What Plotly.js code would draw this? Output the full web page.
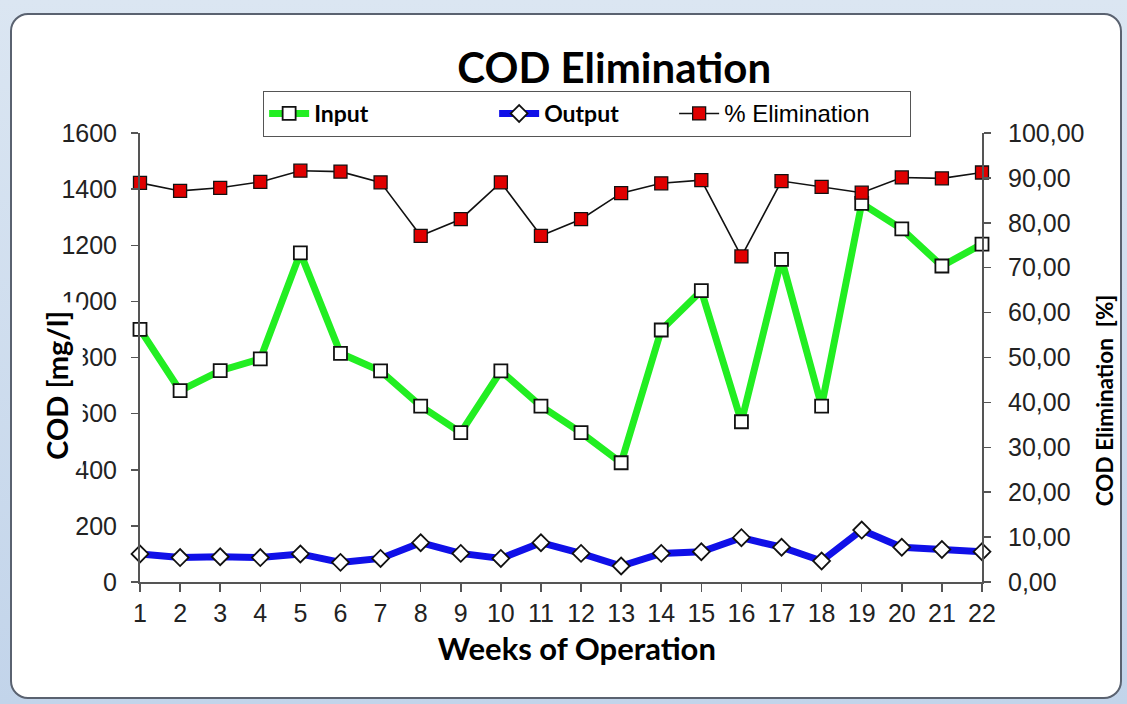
<!DOCTYPE html>
<html><head><meta charset="utf-8">
<script src="https://cdn.plot.ly/plotly-3.0.1.min.js"></script>
<style>
html,body{margin:0;padding:0;width:1127px;height:704px;overflow:hidden;
background:linear-gradient(180deg,#dbe6f2 0%,#c2d4ea 100%);}
#card{position:absolute;left:10px;top:13px;width:1112px;height:686px;border:2px solid #5a6270;border-radius:18px;background:#fff;box-sizing:border-box;}
#chart{position:absolute;left:0;top:0;width:1127px;height:704px;}
</style></head><body>
<div id="card"></div><div id="chart"></div>
<script>
const weeks = [1,2,3,4,5,6,7,8,9,10,11,12,13,14,15,16,17,18,19,20,21,22];
const inputCOD = [900,682,753,795,1173,815,752,627,532,752,627,532,425,898,1038,571,1150,627,1349,1258,1126,1204];
const outputCOD = [100,87,90,87,100,70,84,140,102,84,140,102,57,102,108,158,124,75,185,124,116,108];
const eliminationPct = [88.9,87.1,87.8,89.1,91.6,91.4,89.0,77.1,80.8,89.0,77.1,80.8,86.6,88.8,89.5,72.5,89.3,88.0,86.7,90.1,89.9,91.2];
const seriesNames = ["Input","Output","% Elimination"];
const leftTickVals = [0,200,400,600,800,1000,1200,1400,1600];
const leftTickText = ["0","200","400","600","800","1000","1200","1400","1600"];
const rightTickVals = [0,10,20,30,40,50,60,70,80,90,100];
const rightTickText = ["0,00","10,00","20,00","30,00","40,00","50,00","60,00","70,00","80,00","90,00","100,00"];
const chartTitle = "COD Elimination";
const xTitle = "Weeks of Operation";
const yLeftTitle = "COD [mg/l]";
const yRightTitle = "COD Elimination&nbsp; [%]";

const tickFont = {family:"Liberation Sans, Arial, sans-serif", size:25, color:"#222"};
const axisColor = "#555";

const traces = [
  {x:weeks, y:inputCOD, name:"<b>"+seriesNames[0]+"</b>", type:"scatter", mode:"lines+markers",
   legendwidth:175,
   line:{color:"#22ee22", width:7}, cliponaxis:false,
   marker:{symbol:"square", size:13, color:"#ffffff", line:{color:"#111", width:1.8}}},
  {x:weeks, y:outputCOD, name:"<b>"+seriesNames[1]+"</b>", type:"scatter", mode:"lines+markers",
   legendwidth:125,
   line:{color:"#1010e8", width:7}, cliponaxis:false,
   marker:{symbol:"diamond", size:13, color:"#ffffff", line:{color:"#111", width:1.8}}},
  {x:weeks, y:eliminationPct, name:'<span style="font-family:Liberation Sans;font-size:24px">'+seriesNames[2]+'</span>', type:"scatter", mode:"lines+markers",
   legendwidth:180,
   yaxis:"y2", line:{color:"#111", width:1.6}, cliponaxis:false,
   marker:{symbol:"square", size:13, color:"#e00000", line:{color:"#111", width:1.3}}}
];

const layout = {
  width:1127, height:704,
  paper_bgcolor:"rgba(0,0,0,0)", plot_bgcolor:"rgba(0,0,0,0)",
  margin:{l:140, r:145, t:133, b:122, autoexpand:false},
  showlegend:true,
  title:{text:"<b>"+chartTitle+"</b>", font:{family:"Lato, sans-serif", size:42, color:"#000"},
         xref:"container", x:0.545, xanchor:"center", yref:"container", y:0.903, yanchor:"middle"},
  legend:{orientation:"h", x:0.146, xanchor:"left", y:1.094, yanchor:"top",
          bgcolor:"#ffffff", bordercolor:"#555", borderwidth:1.2,
          font:{family:"Lato, sans-serif", size:23, color:"#000"},
          itemwidth:40},
  xaxis:{range:[1,22], tickvals:weeks, ticktext:weeks.map(String), tickfont:tickFont,
         ticks:"outside", ticklen:8, tickwidth:1.5, tickcolor:axisColor,
         showline:true, linecolor:axisColor, linewidth:2, showgrid:false, zeroline:false,
         title:{text:"&nbsp;&nbsp;&nbsp;&nbsp;<b>"+xTitle+"</b>", font:{family:"Lato, sans-serif", size:31, color:"#000"}, standoff:12}},
  xaxis2:{overlaying:"x", matches:"x", anchor:"y", side:"bottom", tickvals:weeks, showticklabels:false,
          ticks:"inside", ticklen:8, tickwidth:1.5, tickcolor:axisColor, showline:false, showgrid:false, zeroline:false},
  yaxis:{range:[0,1600], tickvals:leftTickVals, ticktext:leftTickText, tickfont:tickFont,
         ticks:"outside", ticklen:7, tickwidth:1.5, tickcolor:axisColor, ticklabelstandoff:9,
         showline:true, linecolor:axisColor, linewidth:2, showgrid:false, zeroline:false},
  yaxis3:{overlaying:"y", matches:"y", anchor:"x", side:"left", tickvals:leftTickVals, showticklabels:false,
          ticks:"inside", ticklen:7, tickwidth:1.5, tickcolor:axisColor, showline:false, showgrid:false, zeroline:false},
  yaxis2:{range:[0,100], overlaying:"y", side:"right", anchor:"x", tickvals:rightTickVals, ticktext:rightTickText, tickfont:tickFont,
          ticks:"outside", ticklen:7, tickwidth:1.5, tickcolor:axisColor, ticklabelstandoff:12,
          showline:true, linecolor:axisColor, linewidth:2, showgrid:false, zeroline:false},
  yaxis4:{overlaying:"y", matches:"y2", anchor:"x", side:"right", tickvals:rightTickVals, showticklabels:false,
          ticks:"inside", ticklen:7, tickwidth:1.5, tickcolor:axisColor, showline:false, showgrid:false, zeroline:false},
  annotations:[
    {text:"<b>"+yLeftTitle+"</b>", textangle:-90, xref:"paper", yref:"paper",
     x:-0.0985, y:0.437, xanchor:"center", yanchor:"middle", showarrow:false,
     bgcolor:"#ffffff", borderpad:8,
     font:{family:"Lato, sans-serif", size:29, color:"#000"}},
    {text:"<b>"+yRightTitle+"</b>", textangle:-90, xref:"paper", yref:"paper",
     x:1.1449, y:0.405, xanchor:"center", yanchor:"middle", showarrow:false,
     font:{family:"Lato, sans-serif", size:22.5, color:"#000"}}
  ]
};

Plotly.newPlot("chart", traces, layout, {displayModeBar:false, staticPlot:true});
</script></body></html>
